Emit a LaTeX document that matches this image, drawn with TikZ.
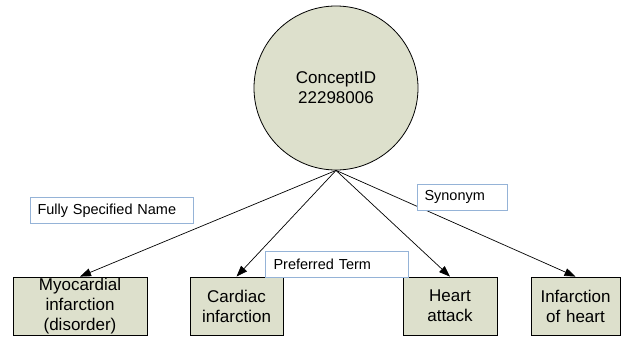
\documentclass[tikz,border=0pt]{standalone}
\usepackage{fontspec}
\setmainfont{Liberation Sans}
\usetikzlibrary{arrows.meta}

\definecolor{conceptfill}{RGB}{221,224,204}
\definecolor{labelblue}{RGB}{149,179,215}

\tikzset{
  termbox/.style={draw=black, line width=0.8pt, fill=conceptfill, inner sep=0pt,
    minimum height=58pt, align=center, font=\fontsize{17}{20}\selectfont},
  typelabel/.style={draw=labelblue, line width=1pt, fill=white, anchor=west,
    inner xsep=7pt, inner ysep=0pt, minimum height=26pt, align=left,
    font=\fontsize{14.5}{17}\selectfont},
  isa/.style={line width=0.7pt, -{Triangle[length=11pt,width=8pt]}}
}

\begin{document}
\begin{tikzpicture}[x=1pt,y=1pt,yscale=-1,xscale=1]
\useasboundingbox (0,0) rectangle (621,337);

%Shape: Circle
\node [circle, draw=black, line width=0.8pt, fill=conceptfill, minimum size=164pt,
  align=center, font=\fontsize{17}{20}\selectfont] (concept) at (336,88) {ConceptID\\22298006};

%Shape: Rectangles
\node [termbox, minimum width=134pt, text width=134pt] (myoc) at (80,306) {Myocardial\\infarction\\(disorder)};
\node [termbox, minimum width=93pt, text width=93pt] (cardiac) at (236.5,306) {Cardiac\\infarction};
\node [termbox, minimum width=94pt, text width=94pt] (heart) at (450,306) {Heart\\attack};
\node [termbox, minimum width=89pt, text width=89pt] (infarct) at (575.5,306) {Infarction\\of heart};

%Straight Lines
\draw [isa] (concept.south) -- (myoc.north);
\draw [isa] (concept.south) -- (cardiac.north);
\draw [isa] (concept.south) -- (heart.north);
\draw [isa] (concept.south) -- (infarct.north);

% Text Node
\node [typelabel, text width=149pt] (lblfsn) at (30,210.5) {Fully Specified Name};
% Text Node
\node [typelabel, text width=127pt, inner xsep=8pt] (lblpt) at (265,264) {Preferred Term};
% Text Node
\node [typelabel, text width=76pt] (lblsyn) at (417,197) {Synonym};

\end{tikzpicture}
\end{document}
